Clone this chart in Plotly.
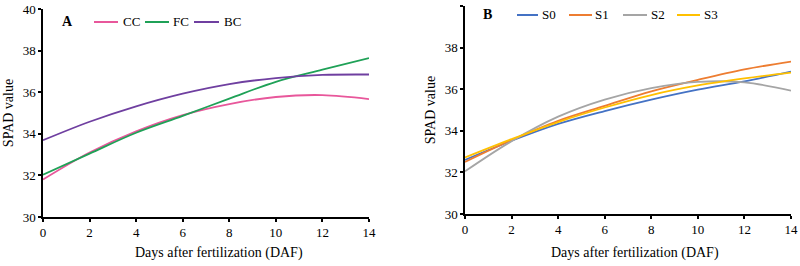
import plotly.graph_objects as go

days = [0, 2, 4, 6, 8, 10, 12, 14]

# Panel A
cc = [31.80, 33.10, 34.12, 34.90, 35.43, 35.77, 35.86, 35.67]
fc = [32.03, 33.05, 34.05, 34.86, 35.69, 36.50, 37.08, 37.64]
bc = [33.69, 34.58, 35.32, 35.93, 36.39, 36.68, 36.83, 36.85]

# Panel B
s0 = [32.60, 33.52, 34.33, 34.95, 35.50, 35.98, 36.38, 36.85]
s1 = [32.50, 33.55, 34.48, 35.20, 35.90, 36.45, 36.95, 37.33]
s2 = [32.05, 33.50, 34.68, 35.50, 36.05, 36.35, 36.33, 35.93]
s3 = [32.72, 33.60, 34.42, 35.12, 35.72, 36.18, 36.52, 36.80]

x_ticks = [0, 2, 4, 6, 8, 10, 12, 14]
y_ticks = [30, 32, 34, 36, 38, 40]

namesA = ["CC", "FC", "BC"]
colorsA = ["#E8579B", "#1FA157", "#6F3FA0"]
namesB = ["S0", "S1", "S2", "S3"]
colorsB = ["#4472C4", "#ED7D31", "#A5A5A5", "#FFC000"]

x_title = "Days after fertilization (DAF)"
y_title = "SPAD value"

W, H = 800, 266
font = "Liberation Serif"


def px(x):
    return x / W


def py(y):
    return 1 - y / H


fig = go.Figure()

for name, vals, col in zip(namesA, [cc, fc, bc], colorsA):
    fig.add_trace(go.Scatter(x=days, y=vals, name=name, mode="lines",
                             line=dict(color=col, width=1.8, shape="spline"),
                             xaxis="x", yaxis="y", showlegend=False))

for name, vals, col in zip(namesB, [s0, s1, s2, s3], colorsB):
    fig.add_trace(go.Scatter(x=days, y=vals, name=name, mode="lines",
                             line=dict(color=col, width=1.8, shape="spline"),
                             xaxis="x2", yaxis="y2", showlegend=False))

axis_common = dict(showline=True, linecolor="black", linewidth=1.5, showgrid=False,
                   zeroline=False, ticks="outside", ticklen=3, tickwidth=1.5, tickcolor="black",
                   automargin=False,
                   tickfont=dict(family=font, size=13, color="black"))

title_font = dict(family=font, size=14, color="black")

# manual legends (line sample + label)
shapes = []
annotations = []
legA = [(94, 118, 121), (145, 169, 171), (194, 219, 222)]
for (x0, x1, xt), name, col in zip(legA, namesA, colorsA):
    shapes.append(dict(type="line", xref="paper", yref="paper", x0=px(x0), x1=px(x1),
                       y0=py(22), y1=py(22), line=dict(color=col, width=2)))
    annotations.append(dict(text=name, x=px(xt), y=py(22), xref="paper", yref="paper",
                            xanchor="left", yanchor="middle", showarrow=False,
                            font=dict(family=font, size=13, color="black")))
legB = [(517, 538, 540), (569, 592, 593), (623, 647, 649), (677, 700, 702)]
for (x0, x1, xt), name, col in zip(legB, namesB, colorsB):
    shapes.append(dict(type="line", xref="paper", yref="paper", x0=px(x0), x1=px(x1),
                       y0=py(15), y1=py(15), line=dict(color=col, width=2)))
    annotations.append(dict(text=name, x=px(xt), y=py(15), xref="paper", yref="paper",
                            xanchor="left", yanchor="middle", showarrow=False,
                            font=dict(family=font, size=13, color="black")))

annotations += [
    dict(text="<b>A</b>", x=px(67), y=py(22), xref="paper", yref="paper", showarrow=False,
         xanchor="center", yanchor="middle", font=dict(family=font, size=14, color="black")),
    dict(text="<b>B</b>", x=px(487), y=py(15), xref="paper", yref="paper", showarrow=False,
         xanchor="center", yanchor="middle", font=dict(family=font, size=14, color="black")),
    dict(text=x_title, x=px(219), y=py(253), xref="paper", yref="paper", showarrow=False,
         xanchor="center", yanchor="middle", font=title_font),
    dict(text=x_title, x=px(635), y=py(253), xref="paper", yref="paper", showarrow=False,
         xanchor="center", yanchor="middle", font=title_font),
]

fig.update_layout(
    width=W, height=H,
    margin=dict(l=0, r=0, t=0, b=0),
    paper_bgcolor="white", plot_bgcolor="white",
    font=dict(family=font, color="black"),
    showlegend=False,
    xaxis=dict(domain=[px(43), px(369)], range=[0, 14], tickvals=x_ticks, anchor="y",
               **axis_common),
    yaxis=dict(domain=[py(217), py(9)], range=[30, 40], tickvals=y_ticks, anchor="x",
               title=dict(text=y_title, font=title_font, standoff=6),
               **axis_common),
    xaxis2=dict(domain=[px(465), px(791)], range=[0, 14], tickvals=x_ticks, anchor="y2",
                **axis_common),
    yaxis2=dict(domain=[py(214), py(6)], range=[30, 40], tickvals=y_ticks, anchor="x2",
                title=dict(text=y_title, font=title_font, standoff=6),
                **axis_common),
    shapes=shapes,
    annotations=annotations,
)

fig.write_html("out.html", config={"displayModeBar": False},
               post_script="document.body.style.margin='0';document.body.style.overflow='hidden';")
